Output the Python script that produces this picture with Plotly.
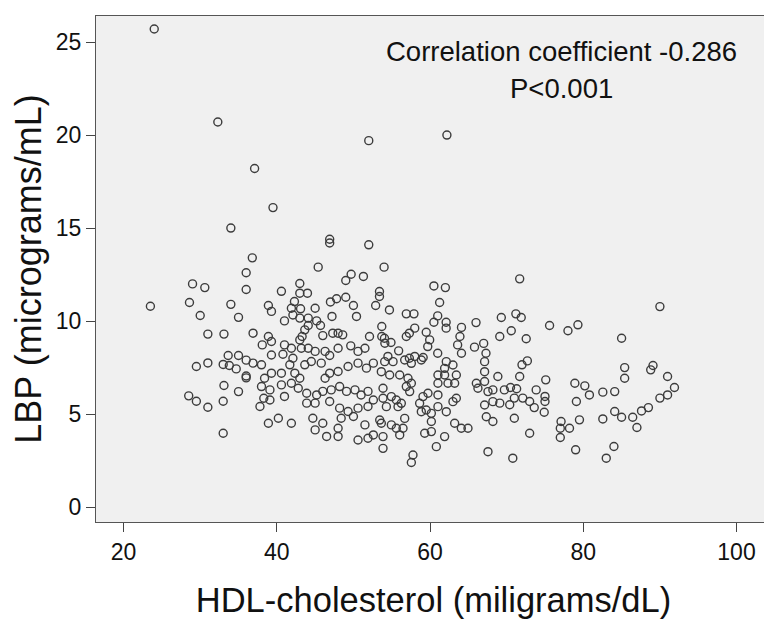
import plotly.graph_objects as go

# HDL-cholesterol (mg/dL) and LBP (micrograms/mL)
hdl = [
    24.0, 32.3, 37.1, 39.5, 34.0, 46.9, 46.9, 52.0, 62.2, 52.0,
    36.8, 36.0, 29.0, 30.6, 36.0, 23.5, 28.6, 34.0, 30.0, 35.0, 31.0, 33.1, 36.9, 33.65, 35.0,
    36.0, 36.9, 29.5, 31.0, 33.0, 33.8, 34.7, 36.0, 36.0, 33.1, 35.0, 28.5, 29.5, 31.0, 33.0, 33.0,
    45.4, 49.0, 49.7, 51.3, 43.0, 40.6, 43.0, 44.0, 49.0, 47.0, 47.8, 50.0, 52.9, 38.9, 39.3,
    42.3, 41.9, 43.1, 45.0, 42.1, 41.0, 43.0, 44.1, 47.2, 50.4, 45.2, 45.7, 44.1, 46.0, 47.3,
    48.0, 48.6, 43.65, 43.3, 43.0, 38.9, 39.3, 38.1, 41.0, 41.9, 43.2, 44.1, 45.0, 46.3, 46.9,
    48.0, 49.65, 50.6, 51.5, 52.1, 39.3, 40.8, 42.1,
    38.0, 39.3, 38.4, 40.6, 41.7, 42.35, 43.0, 43.65, 44.5, 45.8, 46.9, 46.3, 48.0, 49.3, 50.6,
    51.7, 52.6, 38.0, 39.1, 38.3, 39.1, 37.8, 41.0, 40.6, 41.9, 42.8, 43.9, 45.2, 46.0, 45.0,
    43.9, 47.1, 46.9, 48.2, 49.1, 50.2, 51.0, 51.9, 52.6, 51.9, 50.6, 49.3, 48.2, 38.9, 40.2,
    41.9, 44.7, 46.0, 45.0, 46.5, 48.4, 48.0, 48.0, 50.0, 51.5, 50.6, 51.9, 52.6,
    54.0, 60.5, 62.0, 61.25, 53.4, 53.4, 54.7, 56.9, 57.9, 61.0, 60.5, 62.1, 62.1, 66.0, 64.1,
    53.7, 53.7, 54.05, 57.3, 58.0, 56.9, 59.5, 59.95, 59.7, 63.9, 63.6, 64.1, 65.8, 67.0, 67.3,
    54.1, 54.9, 55.9, 54.5, 58.0, 59.1, 61.0, 57.3,
    54.08, 55.17, 56.69, 57.56, 58.86, 53.64, 54.73, 56.04, 57.12, 56.9, 57.34, 57.56, 53.86,
    54.95, 53.86, 55.6, 56.25, 55.82, 54.3, 53.43, 53.64, 54.95, 55.6, 56.47, 56.69, 53.86,
    53.86, 56.04, 58.64, 59.08, 59.73, 58.86, 59.5, 60.17, 60.17, 59.3, 60.17, 60.82, 61.9,
    57.77, 57.56, 61.03, 61.03, 62.12, 62.99, 63.43, 63.21, 64.08, 64.95, 61.03, 61.03, 61.9,
    61.9, 62.12, 62.99, 63.43, 63.21, 62.34, 66.04, 66.25, 67.12, 67.12, 67.12, 67.56, 68.2,
    67.12, 68.2, 67.34, 68.2, 67.56,
    71.7, 69.3, 71.2, 71.9, 75.6, 70.6, 69.1, 72.55, 78.0, 79.3, 72.7, 72.0, 68.85, 71.7, 75.1,
    78.9, 80.2, 80.8, 82.55, 69.7, 70.5, 71.3, 73.85, 69.1, 70.4, 71.0, 72.1, 73.0, 73.6, 75.0,
    75.0, 74.9, 71.0, 73.0, 77.1, 77.0, 78.2, 77.0, 79.1, 79.5, 82.55, 79.0, 70.8, 83.0, 84.0,
    90.0, 85.0, 85.4, 85.4, 88.8, 89.1, 91.0, 91.9, 91.0, 90.0, 84.1, 84.1, 85.0, 86.45, 87.0,
    87.6, 88.5,
]
lbp = [
    25.7, 20.7, 18.2, 16.1, 15.0, 14.4, 14.2, 19.7, 20.0, 14.1,
    13.4, 12.6, 12.0, 11.8, 11.7, 10.8, 11.0, 10.9, 10.3, 10.2, 9.3, 9.3, 9.35, 8.15, 8.15,
    7.9, 7.74, 7.56, 7.75, 7.67, 7.61, 7.43, 7.05, 6.95, 6.54, 6.21, 5.98, 5.69, 5.37, 5.69, 3.97,
    12.9, 12.18, 12.52, 12.4, 12.02, 11.6, 11.5, 11.5, 11.28, 11.03, 11.2, 10.84, 10.84, 10.84, 10.52,
    11.05, 10.69, 10.66, 10.69, 10.33, 10.01, 10.16, 10.16, 10.25, 10.25, 10.01, 9.76, 9.76, 9.22, 9.35,
    9.35, 9.26, 9.53, 9.17, 8.99, 9.17, 8.9, 8.72, 8.72, 8.54, 8.54, 8.54, 8.37, 8.37, 8.15,
    8.54, 8.67, 8.37, 8.54, 9.17, 8.18, 8.22, 8.0,
    7.65, 7.2, 6.93, 7.2, 7.65, 7.2, 6.93, 7.65, 7.83, 7.74, 7.2, 6.93, 7.29, 7.56, 7.74,
    7.47, 7.74, 6.48, 6.3, 5.85, 5.76, 5.41, 5.95, 6.57, 6.66, 6.39, 6.12, 6.03, 6.22, 5.59,
    5.59, 6.3, 5.68, 6.48, 6.22, 6.3, 6.03, 6.22, 5.76, 5.41, 5.32, 5.14, 5.32, 4.51, 4.78,
    4.51, 4.78, 4.51, 4.15, 3.8, 4.78, 4.24, 3.8, 4.87, 4.42, 3.61, 3.7, 3.88,
    12.9, 11.89, 11.8, 11.0, 11.59, 11.32, 10.6, 10.39, 10.39, 10.28, 9.94, 9.94, 9.62, 9.92, 9.66,
    9.71, 9.17, 9.08, 9.35, 9.62, 9.17, 9.4, 8.99, 8.63, 9.17, 8.72, 8.27, 8.6, 8.8, 8.27,
    8.81, 8.85, 8.4, 8.1, 8.1, 8.04, 8.27, 8.0,
    7.82, 7.82, 7.91, 7.73, 7.91, 7.28, 7.1, 7.1, 6.93, 6.48, 6.21, 6.66, 6.39,
    5.94, 5.85, 5.76, 5.58, 5.4, 5.4, 4.68, 4.51, 4.42, 4.24, 4.24, 4.77, 3.79,
    3.16, 3.88, 5.58, 5.94, 6.12, 5.13, 5.22, 5.04, 4.6, 3.97, 4.06, 3.25, 3.79,
    2.8, 2.4, 6.03, 5.4, 5.13, 5.67, 5.85, 4.51, 4.24, 4.24, 7.1, 6.66, 7.46,
    7.1, 7.82, 7.64, 7.1, 6.66, 6.66, 6.66, 6.39, 7.82, 7.28, 6.75, 6.21, 6.3,
    5.49, 5.67, 4.86, 4.6, 2.98,
    12.27, 10.19, 10.39, 10.19, 9.76, 9.48, 9.17, 9.05, 9.48, 9.8, 7.86, 7.65, 7.02, 7.02, 6.84,
    6.66, 6.52, 6.03, 6.18, 6.3, 6.43, 6.36, 6.3, 5.59, 5.5, 5.86, 5.86, 5.68, 5.35, 5.95,
    5.68, 5.1, 4.78, 3.97, 4.6, 4.24, 4.24, 3.74, 5.68, 4.69, 4.74, 3.08, 2.63, 2.63, 3.26,
    10.78, 9.08, 7.5, 6.93, 7.38, 7.61, 7.02, 6.43, 6.03, 5.86, 6.21, 5.14, 4.83, 4.83, 4.28,
    5.17, 5.35,
]

x_ticks = [20, 40, 60, 80, 100]
y_ticks = [0, 5, 10, 15, 20, 25]
note_lines = ["Correlation coefficient -0.286", "P&lt;0.001"]

FONT = "Liberation Sans, Arial, sans-serif"

fig = go.Figure()
fig.add_trace(go.Scatter(
    x=hdl, y=lbp, mode="markers",
    marker=dict(symbol="circle-open", size=8, color="#3c3c3c",
                line=dict(width=1.4, color="#3c3c3c")),
    hoverinfo="x+y", showlegend=False,
))

fig.add_annotation(x=0.69, y=0.9307, xref="paper", yref="paper", text=note_lines[0],
                   showarrow=False, xanchor="center", yanchor="middle",
                   font=dict(family=FONT, size=27.5, color="#111"))
fig.add_annotation(x=0.69, y=0.8576, xref="paper", yref="paper", text=note_lines[1],
                   showarrow=False, xanchor="center", yanchor="middle",
                   font=dict(family=FONT, size=27.5, color="#111"))

axis_common = dict(showline=True, linecolor="#555", linewidth=1.3, mirror=True,
                   ticks="outside", ticklen=9, tickwidth=1.2, tickcolor="#444",
                   showgrid=False, zeroline=False,
                   tickfont=dict(family=FONT, size=23, color="#111"))

fig.update_xaxes(range=[16.4, 104.5], tickvals=x_ticks,
                 title=dict(text="HDL-cholesterol (miligrams/dL)",
                            font=dict(family=FONT, size=34.5, color="#111"), standoff=24),
                 **axis_common)
fig.update_yaxes(range=[-0.8, 26.4], tickvals=y_ticks,
                 title=dict(text="LBP (micrograms/mL)",
                            font=dict(family=FONT, size=36, color="#111"), standoff=6),
                 **axis_common)

fig.update_layout(
    width=772, height=625,
    margin=dict(l=88, r=9, t=8, b=111, autoexpand=False),
    plot_bgcolor="#f0f0f0", paper_bgcolor="white",
    font=dict(family=FONT),
)

fig.write_html("out.html")
